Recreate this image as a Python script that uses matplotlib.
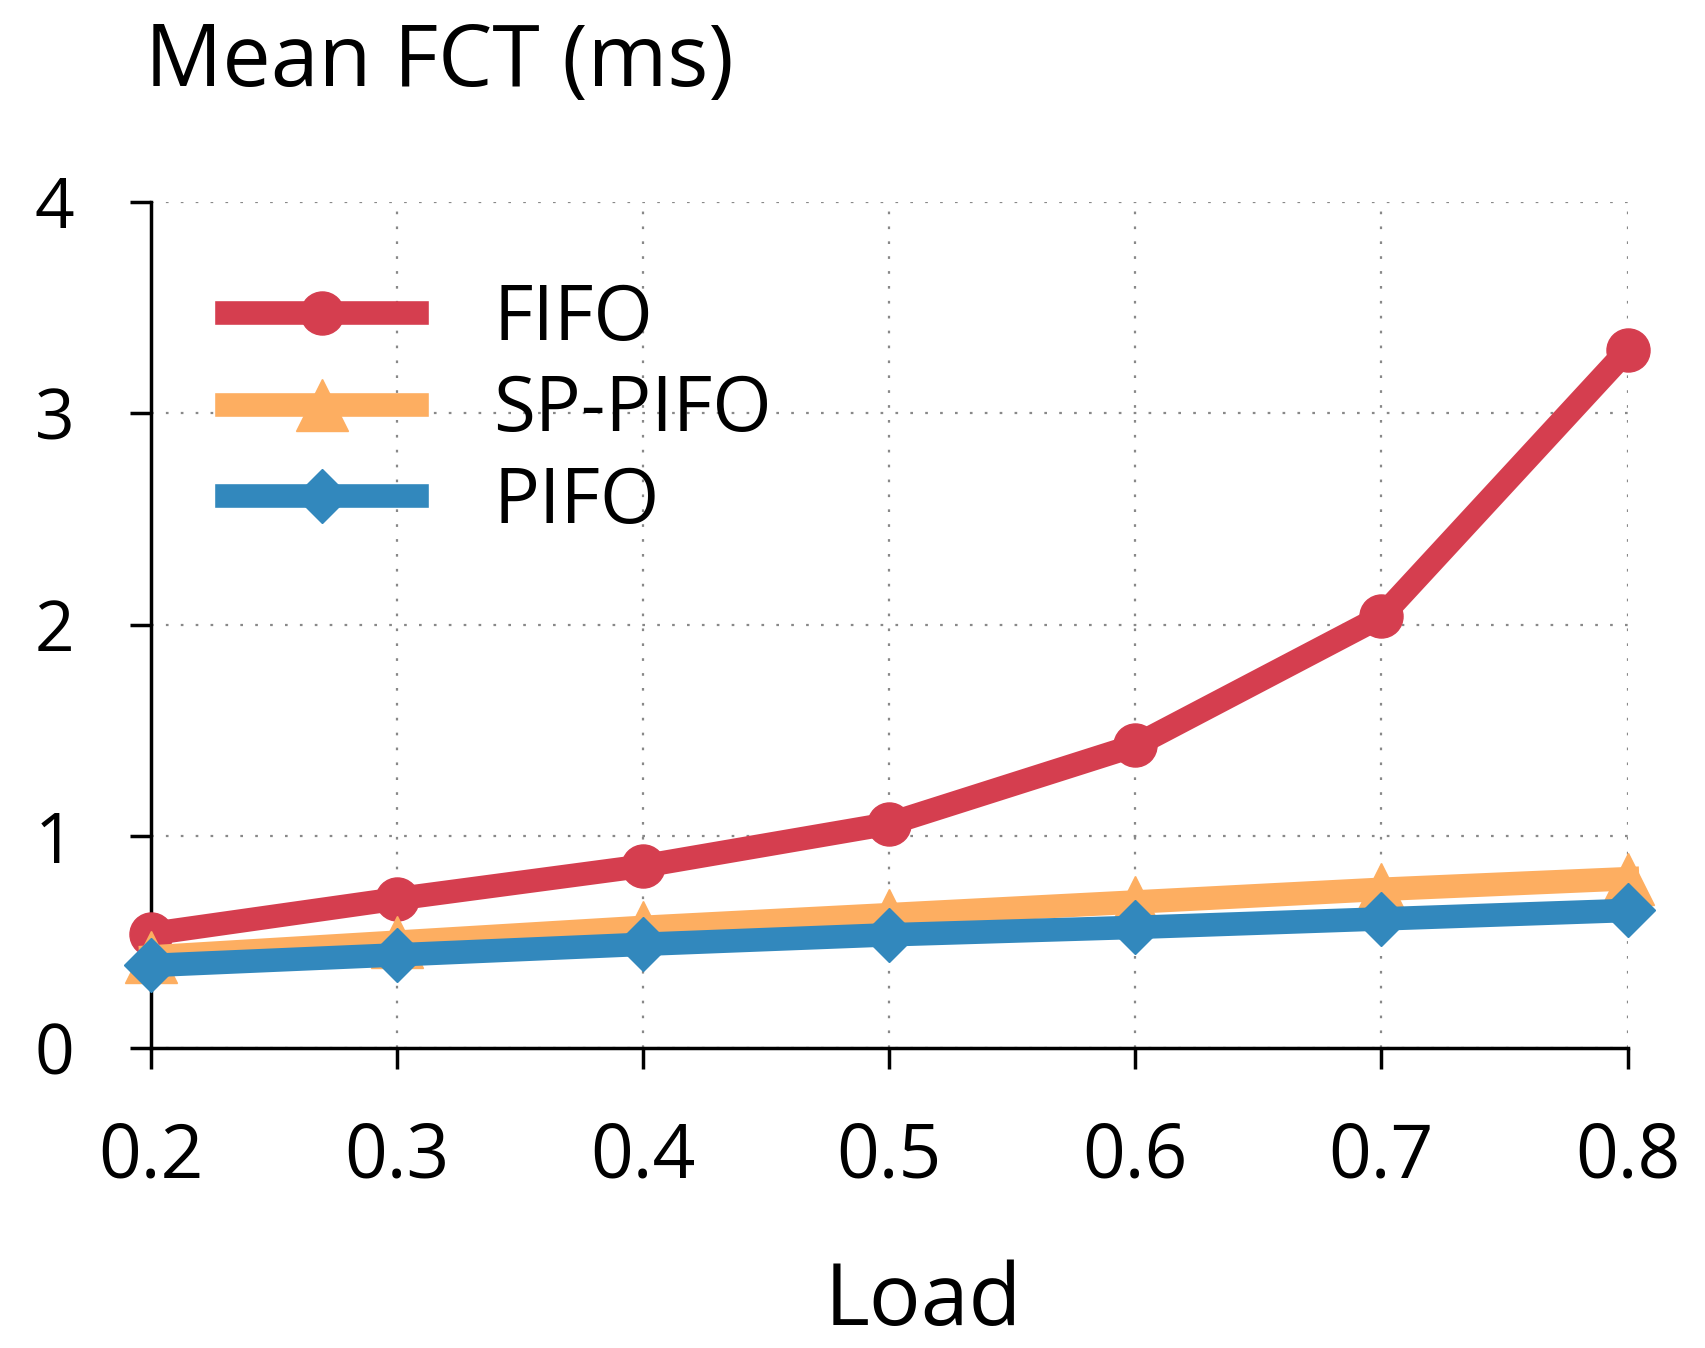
import numpy as np
import matplotlib.pyplot as plt

plt.rcParams['font.family'] = ['Open Sans', 'DejaVu Sans']

# Data
load = [0.2, 0.3, 0.4, 0.5, 0.6, 0.7, 0.8]
fifo = [0.54, 0.705, 0.86, 1.06, 1.43, 2.04, 3.30]
sp_pifo = [0.43, 0.50, 0.57, 0.63, 0.69, 0.75, 0.80]
pifo = [0.39, 0.44, 0.49, 0.535, 0.57, 0.61, 0.65]

x_ticks = [0.2, 0.3, 0.4, 0.5, 0.6, 0.7, 0.8]
y_ticks = [0, 1, 2, 3, 4]

fig = plt.figure(figsize=(17.06, 13.48), dpi=100)
ax = fig.add_axes([0.0885, 0.2226, 0.8655, 0.6276])

ax.plot(load, fifo, color='#d53e4f', lw=17, marker='o', ms=31,
        label='FIFO', clip_on=False, zorder=3)
ax.plot(load, sp_pifo, color='#fdae61', lw=17, marker='^', ms=38,
        label='SP-PIFO', clip_on=False, zorder=3)
ax.plot(load, pifo, color='#3288bd', lw=17, marker='D', ms=28,
        label='PIFO', clip_on=False, zorder=4)

ax.set_xlim(0.2, 0.8)
ax.set_ylim(0, 4)
ax.set_xticks(x_ticks)
ax.set_xticklabels([f'{v:.1f}' for v in x_ticks])
ax.set_yticks(y_ticks)

# axes and grid
for s in ['top', 'right']:
    ax.spines[s].set_visible(False)
for s in ['left', 'bottom']:
    ax.spines[s].set_linewidth(2.5)
ax.grid(True, color='#888888', lw=1.6, linestyle=(0, (1.2, 5.5)), zorder=0)
ax.tick_params(axis='both', direction='out', length=15, width=2.5, pad=40)
ax.tick_params(axis='x', labelsize=54, pad=37)
ax.tick_params(axis='y', labelsize=50)

ax.set_xlabel('Load', fontsize=62)
ax.xaxis.set_label_coords(0.523, -0.25)
fig.text(0.085, 0.985, 'Mean FCT (ms)', fontsize=62, va='top', ha='left')

ax.legend(loc='center left', bbox_to_anchor=(0.133, 0.695),
          bbox_transform=fig.transFigure, frameon=False, fontsize=55,
          handlelength=2.49, handletextpad=1.0, labelspacing=0.2,
          borderpad=0, borderaxespad=0)

plt.savefig('out.png', dpi=100)
